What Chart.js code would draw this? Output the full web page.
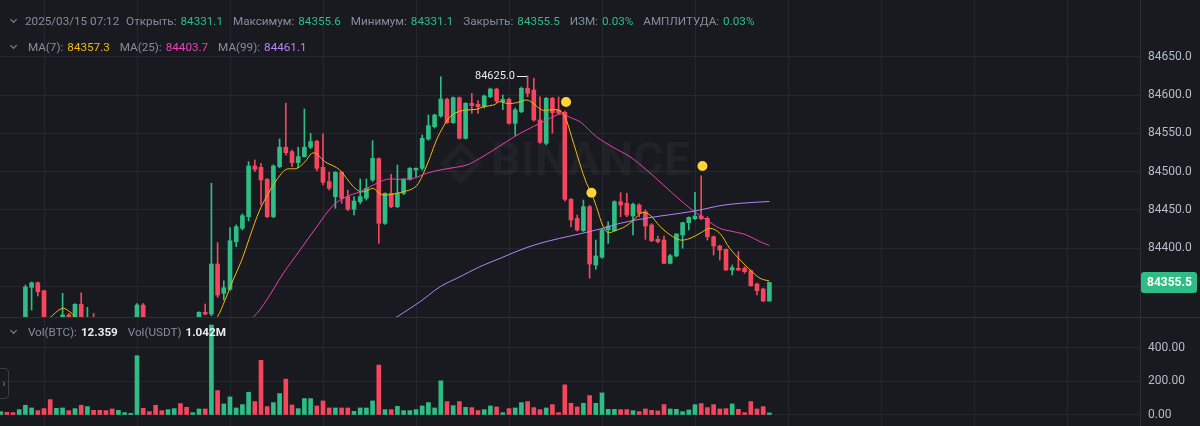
<!DOCTYPE html>
<html lang="ru">
<head>
<meta charset="UTF-8">
<title>BTC/USDT 1m</title>
<script src="https://cdn.jsdelivr.net/npm/chart.js"></script>
<style>
    body {
        margin: 0;
        background: #181A20;
        font-family: Roboto, Arial, sans-serif;
        overflow: hidden;
    }
    #wrap {
        position: relative;
        width: 1200px;
        height: 426px;
    }
    #priceChart { position: absolute; left: 0; top: 0; }
    #volChart { position: absolute; left: 0; top: 318px; }
    #divider {
        position: absolute; left: 0; top: 317px;
        width: 1200px; height: 1px; background: #2B3139;
    }
    .legend {
        position: absolute;
        left: 9px;
        font-size: 11.7px;
        line-height: 16px;
        color: #848E9C;
        white-space: nowrap;
    }
    .legend span { margin-right: 4px; }
    .legend .v { margin-right: 7px; }
    .up { color: #2EBD85; }
    .chev {
        display: inline-block;
        width: 4px; height: 4px;
        border-right: 1.5px solid #848E9C;
        border-bottom: 1.5px solid #848E9C;
        transform: rotate(45deg);
        margin: 0 9px 3px 2px !important;
    }
    #tab {
        position: absolute; left: -1px; top: 368px;
        width: 8px; height: 29px;
        border: 1px solid #3A3F47; border-radius: 0 4px 4px 0;
        color: #848E9C; font-size: 10px; line-height: 29px; text-align: center;
    }
</style>
</head>
<body>
<div id="wrap">
    <canvas id="priceChart" width="1200" height="318"></canvas>
    <canvas id="volChart" width="1200" height="108"></canvas>
    <div id="divider"></div>
    <div class="legend" style="top:13px">
        <span class="chev"></span><span id="stamp"></span>
        <span>Открыть:</span><span class="v up" id="vOpen"></span>
        <span>Максимум:</span><span class="v up" id="vHigh"></span>
        <span>Минимум:</span><span class="v up" id="vLow"></span>
        <span>Закрыть:</span><span class="v up" id="vClose"></span>
        <span>ИЗМ:</span><span class="v up" id="vChg"></span>
        <span>АМПЛИТУДА:</span><span class="v up" id="vAmp"></span>
    </div>
    <div class="legend" style="top:39px">
        <span class="chev"></span>
        <span>MA(7):</span><span class="v" id="vMa7" style="color:#F0B90B"></span>
        <span>MA(25):</span><span class="v" id="vMa25" style="color:#EB40B5"></span>
        <span>MA(99):</span><span class="v" id="vMa99" style="color:#B385F8"></span>
    </div>
    <div class="legend" style="top:324px">
        <span class="chev"></span>
        <span>Vol(BTC):</span><span class="v" id="vVolB" style="color:#EAECEF;font-weight:bold"></span>
        <span>Vol(USDT)</span><span class="v" id="vVolU" style="color:#EAECEF;font-weight:bold"></span>
    </div>
    <div id="tab">&rsaquo;</div>
</div>
<script>
    // 1m candles, 2025/03/15, last one is 07:12
    const stamp = '2025/03/15 07:12';
    const opens = [
        84296, 84302, 84299, 84296, 84304, 84349.1, 84355.1, 84344.7, 84295, 84290,
        84305, 84313, 84298, 84326.9, 84300, 84308, 84300, 84292, 84286, 84280,
        84284, 84287, 84288, 84326, 84303, 84298, 84285, 84280, 84286, 84292,
        84280, 84276, 84298, 84316.5, 84314.2, 84379.5, 84341.3, 84346.5, 84408.6, 84426.1,
        84441.3, 84507.4, 84505.7, 84490.1, 84441.3, 84506.5, 84531.9, 84526.1, 84511.7, 84519.6,
        84531.9, 84539.7, 84505.7, 84487, 84467.4, 84499.2, 84467.4, 84450.9, 84460.8, 84465.3,
        84489.2, 84517, 84432.6, 84471.8, 84454.3, 84471.8, 84490.1, 84502.2, 84504.4, 84542.6,
        84558.7, 84572.6, 84594.4, 84563.9, 84596.5, 84543.5, 84589.2, 84587.9, 84584.8, 84597.8,
        84607.8, 84591.3, 84594.4, 84563.1, 84578.2, 84608.8, 84606.5, 84567.4, 84537, 84595.7,
        84580.5, 84577.5, 84463.9, 84439.1, 84423, 84454.3, 84378.2, 84388.3, 84423.9, 84423,
        84460.8, 84458.7, 84442.1, 84456.5, 84447.8, 84430.4, 84411.7, 84410.8, 84380.4, 84390,
        84417.4, 84433.4, 84438.6, 84442.1, 84439.1, 84415.1, 84403, 84398.7, 84371.7, 84373.9,
        84373.9, 84370.8, 84353.4, 84346.9, 84331.1
    ];
    const highs = [
        84304, 84304, 84301, 84306, 84352, 84356, 84356, 84345, 84305, 84308,
        84341.3, 84315, 84328, 84342, 84323, 84315, 84305, 84296, 84290, 84288,
        84290, 84291, 84328, 84328, 84306, 84300, 84288, 84290, 84295, 84296,
        84284, 84300, 84317, 84327.3, 84484.9, 84407.3, 84357.7, 84426.9, 84430.5, 84444.8,
        84513.1, 84515.3, 84511, 84491, 84509, 84542.7, 84589.3, 84528.3, 84531.9, 84581.8,
        84550.1, 84541, 84549.2, 84499.2, 84500, 84500, 84476, 84467.4, 84490.5, 84490.5,
        84540.5, 84518, 84472.5, 84496.6, 84508.7, 84491, 84505.5, 84505, 84547.8, 84573.9,
        84575, 84623.9, 84596, 84597.5, 84597.5, 84590, 84602.2, 84592.6, 84600, 84609,
        84609, 84600, 84596, 84583, 84610.5, 84625.0, 84621.8, 84597.8, 84597, 84597,
        84597.4, 84579, 84465, 84443.5, 84463, 84456, 84410.8, 84425, 84434.7, 84462,
        84472.5, 84471.8, 84459, 84458, 84450, 84432, 84416, 84416, 84392, 84419,
        84434, 84441, 84473.1, 84494.7, 84441, 84416, 84404, 84399, 84378.2, 84395.6,
        84376, 84371.5, 84354.5, 84348, 84355.6
    ];
    const lows = [
        84292, 84296, 84294, 84294, 84302, 84319.5, 84337.7, 84290, 84286, 84288,
        84300, 84300, 84295, 84296, 84295, 84296, 84288, 84282, 84276, 84277,
        84282, 84285, 84285, 84300, 84295, 84282, 84277, 84278, 84284, 84276,
        84272, 84274, 84296, 84313, 84312, 84336, 84332.5, 84345, 84402.1, 84423.9,
        84435.6, 84500, 84456.5, 84440, 84440, 84505, 84521.8, 84506.5, 84505, 84519,
        84530, 84501, 84482.6, 84476.1, 84452.2, 84458.7, 84449, 84443.5, 84458, 84463,
        84487, 84406.5, 84431, 84453, 84453, 84470, 84489, 84493.4, 84502, 84541,
        84557, 84571, 84563, 84563, 84542.5, 84542.5, 84576.1, 84576.1, 84583, 84596.5,
        84590, 84581, 84562, 84547.4, 84577, 84597.8, 84566, 84537, 84535, 84550,
        84575, 84461.7, 84428.2, 84422.5, 84422, 84360.9, 84372.6, 84387, 84406.5, 84422,
        84441.2, 84441.2, 84417.4, 84441, 84411.7, 84408.6, 84407, 84380, 84379.5, 84389,
        84400, 84423.9, 84437.5, 84437.5, 84410.8, 84391.3, 84384.7, 84371, 84365.2, 84371,
        84367.4, 84350.5, 84339.1, 84330.5, 84331.1
    ];
    const closes = [
        84302, 84299, 84296, 84304, 84349.5, 84355.1, 84343.3, 84295, 84290, 84305,
        84313, 84305, 84326.9, 84300, 84308, 84300, 84292, 84286, 84280, 84284,
        84287, 84289, 84326, 84303, 84298, 84285, 84280, 84286, 84292, 84280,
        84276, 84298, 84316.5, 84314.2, 84379.5, 84339, 84348.6, 84409.9, 84428.2, 84442.6,
        84507.4, 84503.1, 84489.2, 84441.3, 84507.4, 84531.9, 84524.8, 84511.7, 84519.6, 84531.9,
        84539.2, 84504.4, 84486.2, 84478.3, 84499.2, 84465.3, 84450.9, 84461.7, 84467.4, 84478.3,
        84517.4, 84432.6, 84471.8, 84454.3, 84471.8, 84490.1, 84504.4, 84504.4, 84543.5, 84560,
        84573.9, 84594.8, 84563.9, 84596.5, 84543.5, 84589.2, 84586.1, 84584.8, 84598.7, 84607.8,
        84592.2, 84594.4, 84563.1, 84580.5, 84608.8, 84602.2, 84567.4, 84538.3, 84595.7, 84577,
        84576.5, 84463.9, 84436.9, 84423.9, 84454.3, 84379.5, 84390, 84423.9, 84429.1, 84460.8,
        84456.5, 84443.5, 84457.4, 84445.7, 84429.1, 84409.9, 84408.6, 84380.4, 84390.3, 84418.7,
        84433.4, 84440.4, 84442.1, 84438.6, 84415.1, 84403, 84397.8, 84371.7, 84374.7, 84371.7,
        84369.5, 84351.2, 84344.7, 84331.2, 84355.5
    ];
    // volume in BTC
    const volumes = [
        20, 16, 14, 32, 58, 42, 26, 38, 92, 40,
        42, 26, 38, 58, 50, 28, 28, 26, 36, 28,
        14, 10, 354, 40, 20, 58, 26, 32, 38, 68,
        46, 14, 36, 36, 537, 146, 66, 108, 42, 62,
        136, 80, 326, 50, 74, 128, 214, 60, 38, 98,
        98, 54, 84, 42, 42, 42, 42, 22, 42, 42,
        84, 298, 32, 32, 52, 26, 26, 32, 54, 74,
        42, 204, 80, 56, 80, 46, 44, 26, 32, 54,
        48, 14, 38, 42, 74, 80, 44, 32, 42, 62,
        14, 180, 70, 48, 70, 116, 70, 132, 34, 34,
        32, 32, 26, 20, 36, 28, 24, 62, 36, 34,
        20, 30, 62, 68, 44, 62, 36, 38, 66, 34,
        14, 80, 36, 50, 12.359
    ];
    const lastQuoteVolume = 1.042e6; // USDT, last candle

    // moving averages (candle index, price)
    const ma7Idx = [0, 6, 7.9, 9.9, 11, 12, 13.5, 20, 33, 35, 36.2, 37.5, 38.9, 40.2, 41.8, 43.5, 45.1, 46.1, 47.8, 49.1,
        50.2, 51, 52.3, 53.7, 54.7, 55.8, 56.9, 58, 59, 60.1, 61.2, 62.3, 63.9, 65, 66.6, 67.4, 68.2, 69.3, 70.3, 71.4,
        72.5, 73.8, 75.2, 76.8, 77.9, 79.5, 80.5, 81.6, 82.7, 83.8, 84.9, 85.9, 87.3, 88.6, 89.9, 90.9, 92.1, 93.4, 94.5, 95.3,
        96.1, 97.2, 98, 99.1, 100.7, 102.1, 103.4, 104.7, 106.4, 108, 109.6, 111.2, 112.8, 114.4, 116, 117.6, 119.3, 120.9, 122.5, 124];
    const ma7Val = [84288, 84296, 84309, 84321.7, 84318.2, 84310.8, 84298, 84290, 84288, 84310.8, 84332.5, 84358.6, 84384.7, 84415.1, 84450, 84476.1, 84495.6, 84503.1, 84504.4, 84513,
        84524, 84523, 84513, 84507.4, 84502.2, 84491.3, 84480.4, 84473.9, 84474.8, 84478.3, 84470.9, 84469.5, 84471.8, 84473.9, 84478.3, 84484.8, 84497.9, 84519.5, 84541.3, 84558.7,
        84571.7, 84578.2, 84580.5, 84581.4, 84584.8, 84587, 84591.3, 84589.2, 84589.2, 84591.3, 84593.5, 84589.2, 84580.5, 84580.5, 84580.5, 84573.9, 84545.6, 84510.9, 84484.8, 84471.8,
        84454.3, 84428.2, 84420.4, 84423, 84428.2, 84436.9, 84446.5, 84443.5, 84428.2, 84417.4, 84410.8, 84413, 84419.6, 84426.1, 84419.6, 84400, 84384.7, 84371.7, 84360.9, 84357.3];
    const ma25Idx = [36, 40.8, 42.9, 45.6, 48.3, 51, 53.7, 55.8, 58, 60.1, 62.3, 64.4, 66.6, 68.7, 70.9, 73, 75.2, 77.3, 79.5, 81.6,
        83.8, 85.9, 88.1, 89.7, 90.8, 91.8, 93.5, 96.1, 98.8, 101.5, 104.2, 106.9, 109.6, 111.2, 112.3, 113.9, 116, 118.2, 120.3, 122.5, 124];
    const ma25Val = [84285, 84310.8, 84332.5, 84367.4, 84397.8, 84428.2, 84456.5, 84467.3, 84473.9, 84482.6, 84490, 84490, 84491.3, 84497.9, 84502.2, 84505.2, 84508.7, 84517.4, 84528.3, 84539.1,
        84550, 84558.7, 84567.4, 84573.9, 84575.2, 84570.9, 84564.8, 84545.6, 84531.8, 84519.5, 84502.2, 84482.6, 84463, 84452.2, 84445.7, 84436.9, 84426.1, 84421.7, 84417.4, 84408.6, 84403.7];
    const ma99Idx = [55, 63.6, 64.4, 67.6, 70.9, 74.1, 77.3, 80.6, 83.8, 87, 90.2, 93.5, 96.7, 99.9, 103.1, 106.4, 109.6, 112.8, 116, 119.3, 124];
    const ma99Val = [84270, 84309, 84313, 84330, 84349.9, 84362.9, 84376, 84387, 84397.8, 84406.5, 84413, 84419, 84425.2, 84432.6, 84437.8, 84442.1, 84445.7, 84450, 84455.6, 84458.7, 84461.1];

    // yellow event markers
    const markIdx = [91.2, 95.3, 113.2];
    const markVal = [84590.8, 84472.5, 84507.4];

    const priceTicks = [84350, 84400, 84450, 84500, 84550, 84600, 84650];
    const volTicks = [0, 200, 400];
    const gridIdx = [7, 22, 37, 52, 67, 82, 97, 112, 127, 142, 157, 172];

    const UP = '#2EBD85';
    const DOWN = '#F6465D';
    const GRID = '#24272E';
    const AXIS = '#2B3139';
    const TICK = '#B7BDC6';

    const n = closes.length;
    const idx = closes.map((c, i) => i);
    const colors = idx.map(i => closes[i] >= opens[i] ? UP : DOWN);

    // legend
    const last = n - 1;
    document.getElementById('stamp').textContent = stamp;
    document.getElementById('vOpen').textContent = opens[last].toFixed(1);
    document.getElementById('vHigh').textContent = highs[last].toFixed(1);
    document.getElementById('vLow').textContent = lows[last].toFixed(1);
    document.getElementById('vClose').textContent = closes[last].toFixed(1);
    document.getElementById('vChg').textContent = ((closes[last] - opens[last]) / opens[last] * 100).toFixed(2) + '%';
    document.getElementById('vAmp').textContent = ((highs[last] - lows[last]) / lows[last] * 100).toFixed(2) + '%';
    document.getElementById('vMa7').textContent = ma7Val[ma7Val.length - 1].toFixed(1);
    document.getElementById('vMa25').textContent = ma25Val[ma25Val.length - 1].toFixed(1);
    document.getElementById('vMa99').textContent = ma99Val[ma99Val.length - 1].toFixed(1);
    document.getElementById('vVolB').textContent = volumes[last].toFixed(3);
    document.getElementById('vVolU').textContent = (lastQuoteVolume / 1e6).toFixed(3) + 'M';

    function xAxis() {
        return {
            type: 'linear',
            min: -0.097,
            max: 183.774,
            offset: false,
            grid: { color: GRID, drawTicks: false, offset: false },
            border: { display: false },
            ticks: { display: false },
            afterBuildTicks: s => { s.ticks = gridIdx.map(v => ({ value: v })); },
            afterFit: s => { s.height = 0; s.paddingLeft = 0; s.paddingRight = 0; }
        };
    }

    function yAxis(min, max, ticks, fmt) {
        return {
            position: 'right',
            min: min,
            max: max,
            grid: { color: GRID, drawTicks: false },
            border: { display: true, color: AXIS },
            ticks: { color: TICK, padding: 8, font: { family: 'Roboto', size: 12 }, callback: fmt },
            afterBuildTicks: s => { s.ticks = ticks.map(v => ({ value: v })); },
            afterFit: s => { s.width = 60; s.paddingTop = 0; s.paddingBottom = 0; }
        };
    }

    function maLine(xs, ys, color) {
        return {
            type: 'line',
            data: xs.map((x, i) => ({ x: x, y: ys[i] })),
            borderColor: color,
            borderWidth: 1,
            pointRadius: 0,
            tension: 0.35,
            order: 1
        };
    }

    const overlay = {
        id: 'overlay',
        beforeDatasetsDraw(chart) {
            const ctx = chart.ctx;
            ctx.save();
            ctx.fillStyle = 'rgba(255,255,255,0.035)';
            ctx.strokeStyle = 'rgba(255,255,255,0.035)';
            ctx.font = 'bold 47px Roboto';
            ctx.textBaseline = 'middle';
            ctx.fillText('BINANCE', 491, 163);
            // diamond logo
            ctx.lineWidth = 6;
            ctx.translate(461, 163);
            ctx.rotate(Math.PI / 4);
            ctx.strokeRect(-12, -12, 24, 24);
            ctx.fillRect(-4, -4, 8, 8);
            ctx.restore();
        },
        afterDraw(chart) {
            const ctx = chart.ctx;
            const xs = chart.scales.x, ys = chart.scales.y;
            // high marker
            let iMax = 0;
            highs.forEach((h, i) => { if (h > highs[iMax]) iMax = i; });
            const hx = Math.round(xs.getPixelForValue(iMax));
            const hy = Math.round(ys.getPixelForValue(highs[iMax])) + 0.5;
            ctx.save();
            ctx.strokeStyle = '#EAECEF';
            ctx.lineWidth = 1;
            ctx.beginPath();
            ctx.moveTo(hx - 11, hy);
            ctx.lineTo(hx - 1, hy);
            ctx.stroke();
            ctx.fillStyle = '#EAECEF';
            ctx.font = '11px Roboto';
            ctx.textAlign = 'right';
            ctx.textBaseline = 'middle';
            ctx.fillText(highs[iMax].toFixed(1), hx - 13, hy);
            // last price tag
            const py = ys.getPixelForValue(closes[last]);
            ctx.fillStyle = closes[last] >= opens[last] ? UP : DOWN;
            ctx.beginPath();
            ctx.roundRect(1141, Math.round(py) - 10, 56, 21, 3);
            ctx.fill();
            ctx.fillStyle = '#FFFFFF';
            ctx.font = 'bold 12px Roboto';
            ctx.textAlign = 'left';
            ctx.fillText(closes[last].toFixed(1), 1147, py + 0.5);
            ctx.restore();
        }
    };

    const priceChart = new Chart(document.getElementById('priceChart'), {
        type: 'bar',
        data: {
            datasets: [
                {
                    data: idx.map(i => ({ x: i, y: [lows[i], highs[i]] })),
                    backgroundColor: colors,
                    barThickness: 1,
                    grouped: false,
                    order: 3
                },
                {
                    data: idx.map(i => ({ x: i, y: [opens[i], closes[i]] })),
                    backgroundColor: colors,
                    barThickness: 4,
                    minBarLength: 1,
                    grouped: false,
                    order: 2
                },
                maLine(ma99Idx, ma99Val, '#B385F8'),
                maLine(ma25Idx, ma25Val, '#EB40B5'),
                maLine(ma7Idx, ma7Val, '#F0B90B'),
                {
                    type: 'line',
                    data: markIdx.map((x, i) => ({ x: x, y: markVal[i] })),
                    showLine: false,
                    pointRadius: 5,
                    pointBackgroundColor: '#FCD535',
                    pointBorderWidth: 0,
                    order: 0
                }
            ]
        },
        options: {
            responsive: false,
            animation: false,
            layout: { padding: 0, autoPadding: false },
            plugins: { legend: { display: false }, tooltip: { enabled: false } },
            scales: {
                x: xAxis(),
                y: yAxis(84309.06, 84723.98, priceTicks, v => v === 84350 ? '' : Number(v).toFixed(1))
            }
        },
        plugins: [overlay]
    });

    const volChart = new Chart(document.getElementById('volChart'), {
        type: 'bar',
        data: {
            datasets: [{
                data: idx.map(i => ({ x: i, y: volumes[i] })),
                backgroundColor: colors,
                barThickness: 4
            }]
        },
        options: {
            responsive: false,
            animation: false,
            layout: { padding: 0, autoPadding: false },
            plugins: { legend: { display: false }, tooltip: { enabled: false } },
            scales: {
                x: xAxis(),
                y: yAxis(-65.7, 579.1, volTicks, v => Number(v).toFixed(2))
            }
        }
    });
</script>
</body>
</html>
